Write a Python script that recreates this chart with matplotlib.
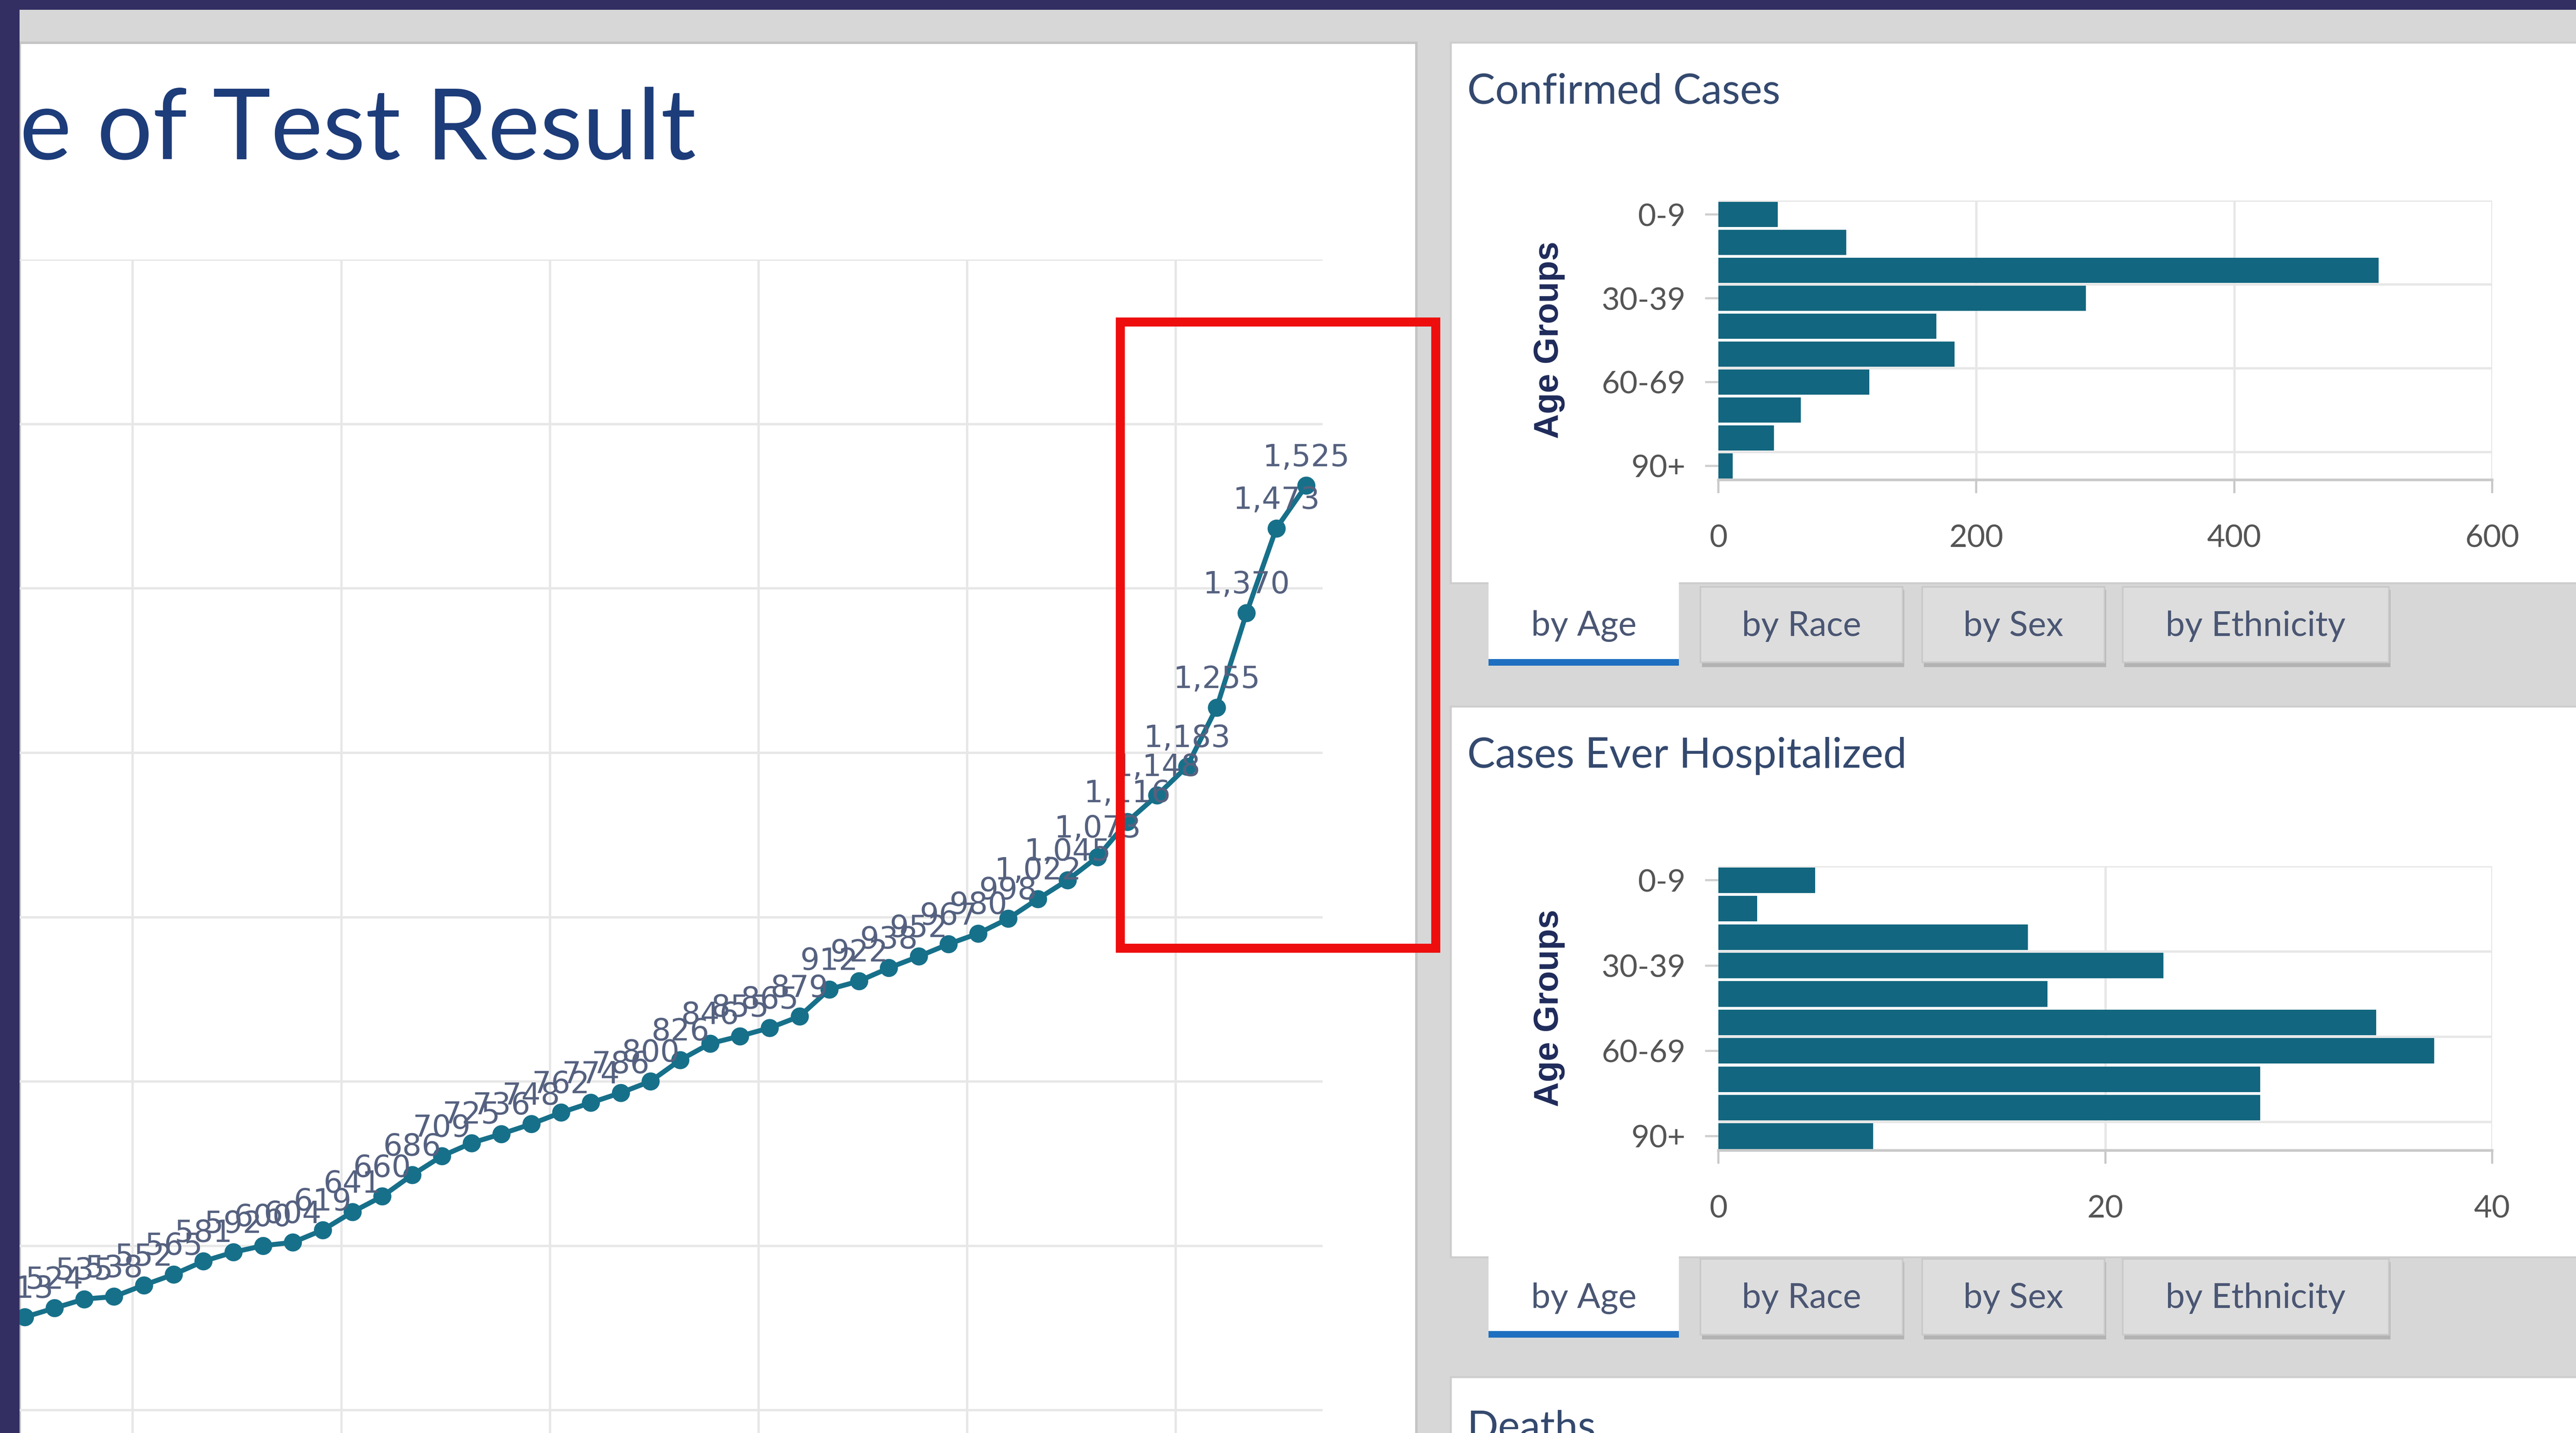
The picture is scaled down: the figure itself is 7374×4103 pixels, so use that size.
import numpy as np
import matplotlib
matplotlib.use("Agg")
import matplotlib.pyplot as plt
from matplotlib.patches import Rectangle

# cumulative confirmed cases, one point per day
cumulative = [513, 524, 535, 538, 552, 565, 581, 592, 600, 604, 619, 641, 660, 686,
              709, 725, 736, 748, 762, 774, 786, 800, 826, 846, 855, 865, 879, 912,
              922, 938, 952, 967, 980, 998, 1022, 1045, 1073, 1116, 1148, 1183,
              1255, 1370, 1473, 1525]

age_groups = ['0-9', '10-19', '20-29', '30-39', '40-49', '50-59',
              '60-69', '70-79', '80-89', '90+']
confirmed_by_age = [46, 99, 512, 285, 169, 183, 117, 64, 43, 11]
hospitalized_by_age = [5, 2, 16, 23, 17, 34, 37, 28, 28, 8]
confirmed_ticks = [0, 200, 400, 600]
hospitalized_ticks = [0, 20, 40]
tab_names = ['by Age', 'by Race', 'by Sex', 'by Ethnicity']

# colours
NAVY = '#332f63'
PAGE = '#d7d7d7'
TEAL = '#17708a'
BAR = '#12667f'
GRID = '#e7e7e7'
TXT = '#4a5673'

# layout is worked out on a 1568 x 872 grid, 1 unit = 1 pt
W, H = 1568, 872
DPI = 7374 / W * 72
fig = plt.figure(figsize=(7374 / DPI, 4103 / DPI), dpi=DPI)
fig.patch.set_facecolor(PAGE)


def box(x0, y0, x1, y1, fc, ec='none', lw=0, z=-5, fill=True):
    fig.add_artist(Rectangle((x0 / W, 1 - y1 / H), (x1 - x0) / W, (y1 - y0) / H,
                             transform=fig.transFigure, facecolor=fc, edgecolor=ec,
                             linewidth=lw, zorder=z, fill=fill))


def label(x, y, s, **kw):
    fig.text(x / W, 1 - y / H, s, **kw)


# panels
box(12, 26, 862, 880, 'white', ec='#c4c4c4', lw=1.5)
box(883, 26, 1575, 355, 'white', ec='#cdcdcd', lw=1.2)
box(883, 430, 1575, 765, 'white', ec='#cdcdcd', lw=1.2)
box(883, 838, 1575, 880, 'white', ec='#cdcdcd', lw=1.2)

# left panel: cumulative line
label(12, 97, 'e of Test Result', fontsize=60, family='Lato',
      color='#1d3c7a', va='baseline', ha='left')

ax = fig.add_axes([12 / W, 0, (805 - 12) / W, (872 - 158) / H])
ax.set_facecolor('none')
days = np.arange(len(cumulative))
ax.plot(days, cumulative, '-o', color=TEAL, lw=3, ms=10, zorder=3)
for d, v in zip(days, cumulative):
    ax.annotate(f'{v:,}', (d, v), xytext=(0, 8), textcoords='offset points',
                ha='center', va='bottom', fontsize=18.5, color='#55617f', zorder=4)
ax.set_xlim(-0.165, 43.55)
ax.set_ylim(372, 1800)
ax.set_xticks(np.arange(3.62, 44, 7))
ax.set_yticks(range(400, 1801, 200))
ax.grid(color=GRID, lw=1.4)
ax.tick_params(length=0, labelbottom=False, labelleft=False)
for s in ax.spines.values():
    s.set_visible(False)


def bar_panel(top, bottom, values, ticks, title, title_y, tab_y):
    label(893, title_y, title, fontsize=25.5, family='Lato',
          color='#34496e', va='center', ha='left')
    bx = fig.add_axes([1046 / W, 1 - bottom / H, (1517 - 1046) / W, (bottom - top) / H])
    bx.set_facecolor('none')
    pos = np.arange(len(age_groups))
    bx.barh(pos, values, height=0.9, color=BAR, zorder=3)
    bx.set_ylim(len(age_groups) - 0.5, -0.5)
    bx.set_xlim(0, ticks[-1])
    bx.set_xticks(ticks)
    bx.set_yticks(pos[::3])
    bx.set_yticklabels(age_groups[::3])
    for b in (-0.5, 2.5, 5.5, 8.5):
        bx.axhline(b, color=GRID, lw=1.4, zorder=1)
    for t in ticks[1:]:
        bx.axvline(t, color=GRID, lw=1.4, zorder=1)
    for k, s in bx.spines.items():
        s.set_visible(k == 'bottom')
    bx.spines['bottom'].set_color('#c9c9c9')
    bx.spines['bottom'].set_linewidth(1.6)
    bx.tick_params(axis='x', length=8, width=1.3, color='#c9c9c9', pad=19,
                   labelsize=19, labelcolor='#555555')
    bx.tick_params(axis='y', length=8, width=1.3, color='#cfcfcf', pad=12,
                   labelsize=19, labelcolor='#555555')
    for t in bx.get_xticklabels() + bx.get_yticklabels():
        t.set_family('Lato')
    label(943, (top + bottom) / 2, 'Age Groups', fontsize=21, fontweight='bold',
          family='Liberation Sans', color='#1f2b5a', rotation=90,
          va='center', ha='center')

    # tab strip
    tabs = [(906, 1022), (1035, 1158), (1170, 1281), (1292, 1454)]
    for i, ((x0, x1), name) in enumerate(zip(tabs, tab_names)):
        if i == 0:
            box(x0, tab_y - 2, x1, tab_y + 48, 'white', z=-4)
            box(x0, tab_y + 45, x1, tab_y + 49, '#1e6fc0', z=-3)
        else:
            box(x0 + 1, tab_y + 3, x1 + 1, tab_y + 50, '#b3b3b3', z=-4)
            box(x0, tab_y + 1, x1, tab_y + 47, '#dddddd', ec='#c9c9c9', lw=1, z=-3)
        label((x0 + x1) / 2, tab_y + 25, name, fontsize=21, family='Lato',
              color=TXT, va='center', ha='center')


bar_panel(122, 292, confirmed_by_age, confirmed_ticks, 'Confirmed Cases', 56, 356)
bar_panel(527, 700, hospitalized_by_age, hospitalized_ticks,
          'Cases Ever Hospitalized', 460, 765)

label(893, 876, 'Deaths', fontsize=25, family='Lato', color='#34496e',
      va='baseline', ha='left')

# highlight box and frame
box(682, 196, 874, 577, 'none', ec='#ee0e0e', lw=5.5, z=15, fill=False)
box(0, 0, W, 6, NAVY, z=20)
box(0, 0, 12, H, NAVY, z=20)

fig.savefig('out.png', dpi=DPI, facecolor=fig.get_facecolor())
